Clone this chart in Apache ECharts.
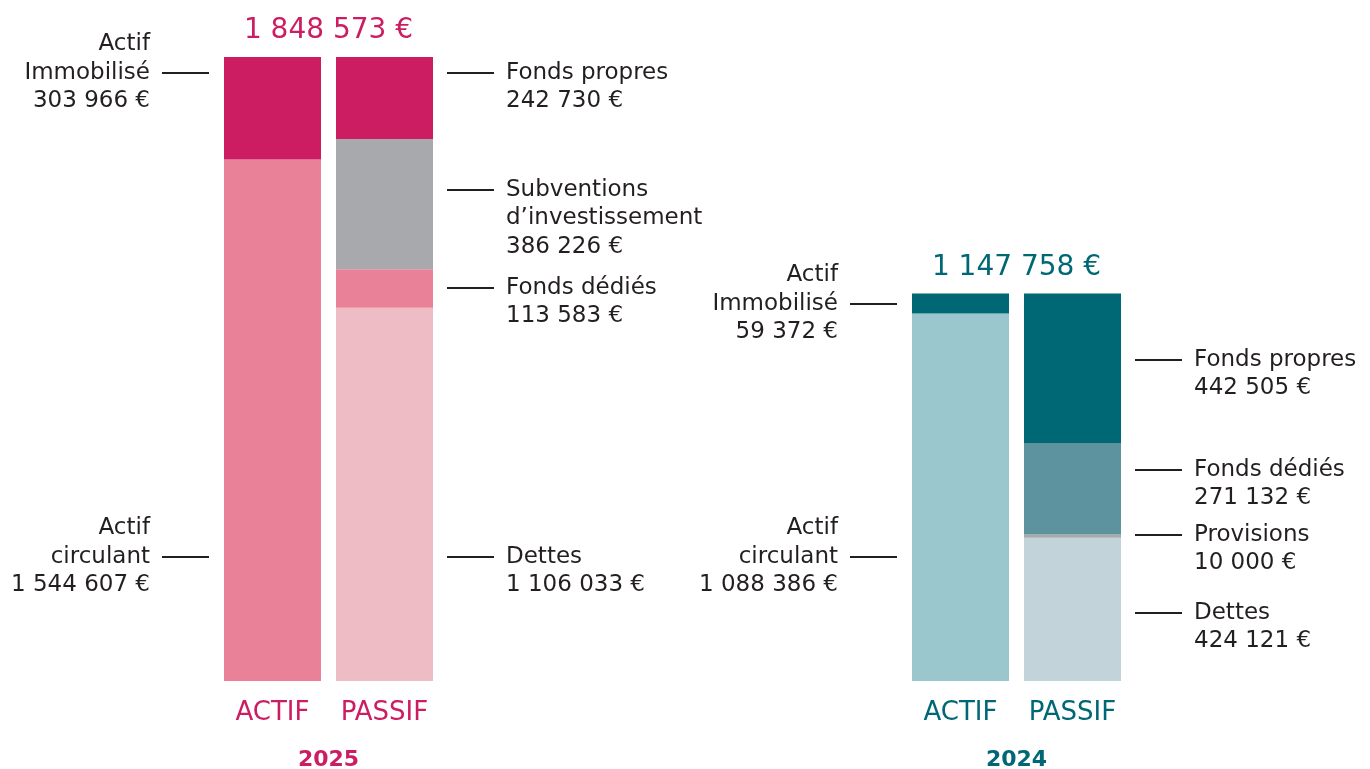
<!DOCTYPE html>
<html>
<head>
<meta charset="utf-8">
<script src="https://cdn.jsdelivr.net/npm/echarts@6/dist/echarts.min.js"></script>
<style>
  html, body { margin: 0; padding: 0; background: #fff; }
  #main { width: 1370px; height: 769px; }
</style>
</head>
<body>
<div id="main"></div>
<script>
// donnees (ordre : du haut de la colonne vers le bas)
const categories = ['ACTIF', 'PASSIF'];
const years = ['2025', '2024'];
const totals = [1848573, 1147758];

const actifNames = ['Actif\nImmobilisé', 'Actif\ncirculant'];
const actif2025 = [303966, 1544607];
const actif2024 = [59372, 1088386];

const passifNames2025 = ['Fonds propres', 'Subventions\nd’investissement', 'Fonds dédiés', 'Dettes'];
const passif2025 = [242730, 386226, 113583, 1106033];
const passifNames2024 = ['Fonds propres', 'Fonds dédiés', 'Provisions', 'Dettes'];
const passif2024 = [442505, 271132, 10000, 424121];

// couleurs
const pink = '#cc1d62';
const teal = '#006875';
const actifColors = [[pink, '#e98298'], [teal, '#9ac7cd']];
const passifColors = [['#cc1d62', '#a8a9ad', '#e98298', '#edbcc5'], ['#006875', '#5c939e', '#a9a9ab', '#c2d4da']];

// position verticale des traits de rappel (px)
const leftLineY = [[73, 557], [304, 557]];
const rightLineY = [[73, 190, 288, 557], [360, 470, 535, 613]];

const FONT = 'DejaVu Sans';
const gridLeft = [216.5, 904.5];
const band = 112;
const barW = 97;
const yMax = totals[0];

function fmt(v) {
  return String(v).replace(/\B(?=(\d{3})+(?!\d))/g, ' ') + ' €';
}

var chart = echarts.init(document.getElementById('main'));

var grids = [], xAxes = [], yAxes = [], series = [];
var groups = [
  { actif: actif2025, passif: passif2025, pNames: passifNames2025 },
  { actif: actif2024, passif: passif2024, pNames: passifNames2024 }
];

groups.forEach(function (g, i) {
  var col = i === 0 ? pink : teal;
  grids.push({ left: gridLeft[i], width: band * 2, top: 57, bottom: 88, outerBoundsMode: 'none', containLabel: false });
  xAxes.push({
    type: 'category', gridIndex: i, data: categories,
    axisLine: { show: false }, axisTick: { show: false },
    axisLabel: { color: col, fontSize: 26, fontFamily: FONT, margin: 19, interval: 0, hideOverlap: false },
    name: years[i], nameLocation: 'middle', nameGap: 68,
    nameTextStyle: { color: col, fontSize: 22, fontWeight: 'bold', fontFamily: FONT }
  });
  yAxes.push({ type: 'value', gridIndex: i, min: 0, max: yMax, show: false, splitLine: { show: false } });

  // empilement du bas vers le haut
  for (var k = g.actif.length - 1; k >= 0; k--) {
    series.push({
      type: 'bar', xAxisIndex: i, yAxisIndex: i, stack: 'a' + i, barWidth: barW,
      name: actifNames[k], data: [g.actif[k], '-'],
      itemStyle: { color: actifColors[i][k] }, silent: true
    });
  }
  for (var k = g.passif.length - 1; k >= 0; k--) {
    series.push({
      type: 'bar', xAxisIndex: i, yAxisIndex: i, stack: 'a' + i, barWidth: barW,
      name: g.pNames[k], data: ['-', g.passif[k]],
      itemStyle: { color: passifColors[i][k] }, silent: true
    });
  }
});

chart.setOption({
  animation: false,
  backgroundColor: '#fff',
  grid: grids,
  xAxis: xAxes,
  yAxis: yAxes,
  series: series
});

// textes : totaux et rappels
var graphics = [];
var LH = 28.5;
var textStyleBase = { fontSize: 23, fontFamily: FONT, fill: '#231f20', lineHeight: LH };

groups.forEach(function (g, i) {
  var col = i === 0 ? pink : teal;
  var pA = chart.convertToPixel({ gridIndex: i }, ['ACTIF', totals[i]]);
  var pP = chart.convertToPixel({ gridIndex: i }, ['PASSIF', 0]);
  var cx = (pA[0] + pP[0]) / 2;
  graphics.push({
    type: 'text', x: cx, y: pA[1] - 26,
    style: { text: fmt(totals[i]), fontSize: 28, fontFamily: FONT, fill: col, align: 'center', verticalAlign: 'middle' }
  });

  var aLeft = pA[0] - barW / 2;
  var pRight = pP[0] + barW / 2;

  g.actif.forEach(function (v, k) {
    var y = leftLineY[i][k];
    graphics.push({ type: 'line', shape: { x1: aLeft - 62, y1: y, x2: aLeft - 15, y2: y }, style: { stroke: '#231f20', lineWidth: 2 } });
    graphics.push({
      type: 'text', x: aLeft - 74, y: y - LH * 1.5,
      style: Object.assign({}, textStyleBase, { text: actifNames[k] + '\n' + fmt(v), align: 'right', verticalAlign: 'top' })
    });
  });

  g.passif.forEach(function (v, k) {
    var y = rightLineY[i][k];
    graphics.push({ type: 'line', shape: { x1: pRight + 14, y1: y, x2: pRight + 61, y2: y }, style: { stroke: '#231f20', lineWidth: 2 } });
    graphics.push({
      type: 'text', x: pRight + 73, y: y - LH * 0.5,
      style: Object.assign({}, textStyleBase, { text: g.pNames[k] + '\n' + fmt(v), align: 'left', verticalAlign: 'top' })
    });
  });
});

chart.setOption({ graphic: graphics });
</script>
</body>
</html>
